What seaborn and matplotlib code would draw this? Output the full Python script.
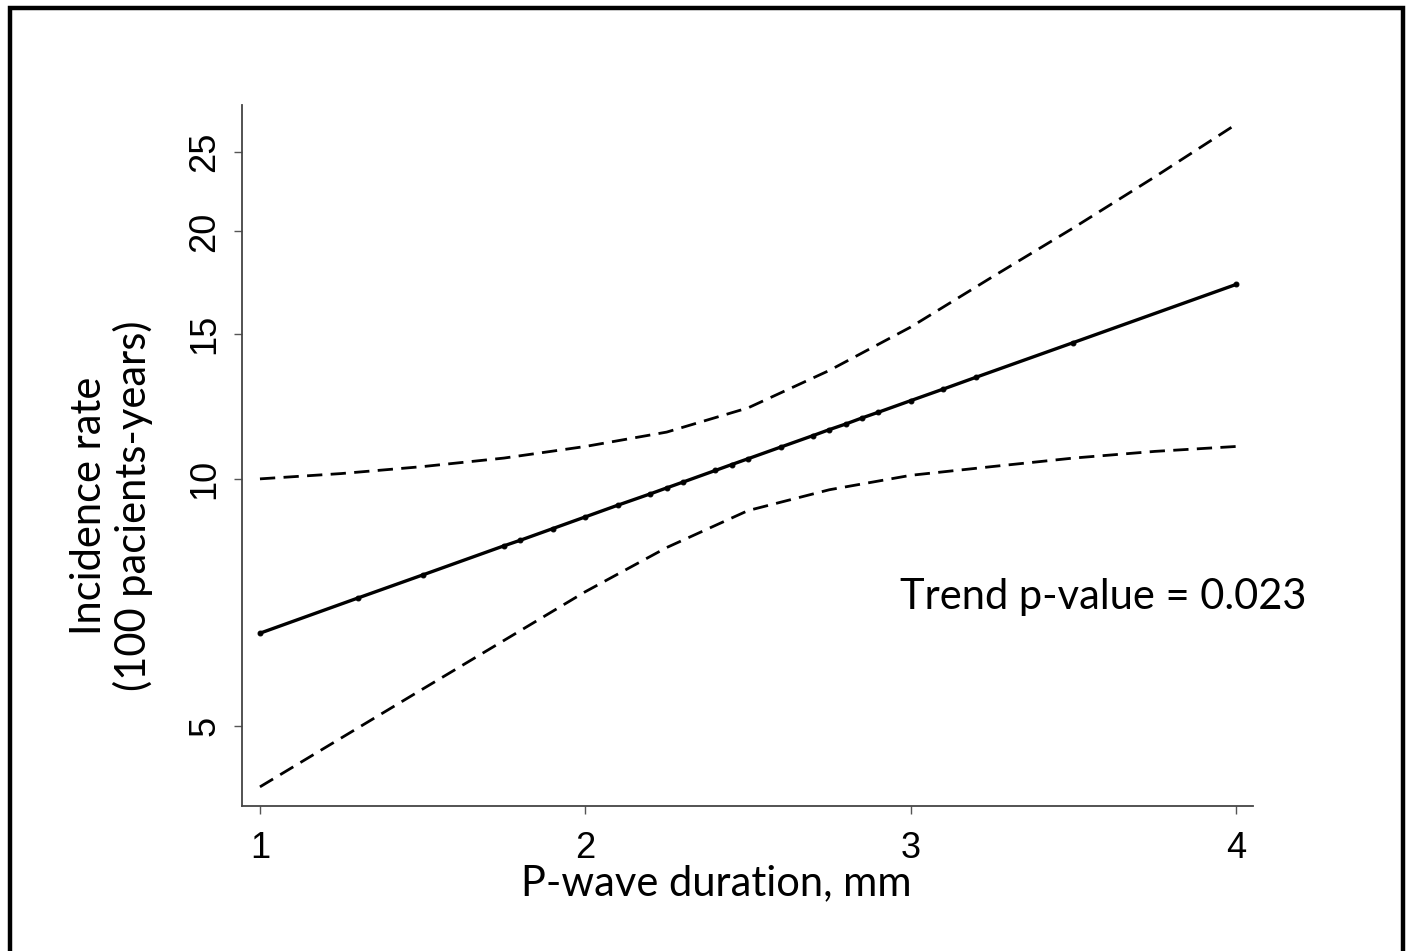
import numpy as np
import pandas as pd
import seaborn as sns
import matplotlib.pyplot as plt
from matplotlib.patches import Rectangle
from matplotlib.ticker import FixedLocator, NullLocator

# observed points on the fitted trend
duration = [1.0, 1.3, 1.5, 1.75, 1.8, 1.9, 2.0, 2.1, 2.2, 2.25, 2.3, 2.4, 2.45,
            2.5, 2.6, 2.7, 2.75, 2.8, 2.85, 2.9, 3.0, 3.1, 3.2, 3.5, 4.0]
rate = [6.49, 7.16, 7.64, 8.29, 8.42, 8.70, 8.99, 9.29, 9.59, 9.75, 9.91, 10.24, 10.41,
        10.58, 10.93, 11.29, 11.48, 11.66, 11.86, 12.05, 12.45, 12.86, 13.29, 14.65, 17.24]

# confidence band
ci_x = [1.0, 1.25, 1.5, 1.75, 2.0, 2.25, 2.5, 2.75, 3.0, 3.25, 3.5, 3.75, 4.0]
ci_upper = [10.0, 10.15, 10.35, 10.6, 10.95, 11.4, 12.2, 13.55, 15.3, 17.6, 20.2, 23.3, 27.0]
ci_lower = [4.22, 4.84, 5.55, 6.36, 7.29, 8.25, 9.15, 9.7, 10.1, 10.35, 10.6, 10.8, 10.95]

y_ticks = [5, 10, 15, 20, 25]
x_ticks = [1, 2, 3, 4]

sns.set_style("ticks")
plt.rcParams["text.color"] = "black"
plt.rcParams["xtick.color"] = "black"
plt.rcParams["ytick.color"] = "black"
plt.rcParams["axes.labelcolor"] = "black"
label_font = ["Lato", "DejaVu Sans"]
tick_font = ["Liberation Sans", "DejaVu Sans"]

df = pd.DataFrame({"x": duration, "y": rate})
band = pd.DataFrame({"x": ci_x + ci_x,
                     "y": ci_upper + ci_lower,
                     "bound": ["upper"] * len(ci_x) + ["lower"] * len(ci_x)})

fig = plt.figure(figsize=(14.09, 9.51), dpi=100)
ax = fig.add_axes([0.1718, 0.1525, 0.7175, 0.7371])

for b in ["upper", "lower"]:
    sns.lineplot(data=band[band["bound"] == b], x="x", y="y", ax=ax, color="black",
                 lw=2.0, linestyle=(0, (5.5, 3)), estimator=None)
sns.lineplot(data=df, x="x", y="y", ax=ax, color="black", lw=2.4, marker="o",
             markersize=3.5, markeredgecolor="black", estimator=None)

ax.set_yscale("log")
ax.set_ylim(4.0, 28.5)
ax.set_xlim(0.945, 4.052)
ax.yaxis.set_major_locator(FixedLocator(y_ticks))
ax.yaxis.set_minor_locator(NullLocator())
ax.set_yticklabels([str(t) for t in y_ticks], rotation=90, va="center",
                   fontfamily=tick_font, fontsize=26)
ax.set_xticks(x_ticks)
ax.set_xticklabels([str(t) for t in x_ticks], fontfamily=tick_font, fontsize=26)
ax.tick_params(axis="y", length=6, width=1, color="#555555", pad=8)
ax.tick_params(axis="x", length=6, width=1, color="#555555", pad=12)

for s in ["top", "right"]:
    ax.spines[s].set_visible(False)
for s in ["left", "bottom"]:
    ax.spines[s].set_linewidth(1.3)
    ax.spines[s].set_color("#444444")

ax.set_xlabel("P-wave duration, mm", fontfamily=label_font, fontsize=30)
ax.xaxis.set_label_coords(0.469, -0.083)
ax.set_ylabel("Incidence rate\n(100 pacients-years)", fontfamily=label_font,
              fontsize=30, linespacing=1.15)
ax.yaxis.set_label_coords(-0.088, 0.428)

ax.text(1.053, 0.298, "Trend p-value = 0.023", transform=ax.transAxes, ha="right",
        va="center", fontfamily=label_font, fontsize=30)

# thick outer frame
fig.add_artist(Rectangle((0.0071, -0.05), 0.9886, 1.042, transform=fig.transFigure,
                         fill=False, edgecolor="black", lw=3.2))

fig.savefig("out.png", dpi=100)
